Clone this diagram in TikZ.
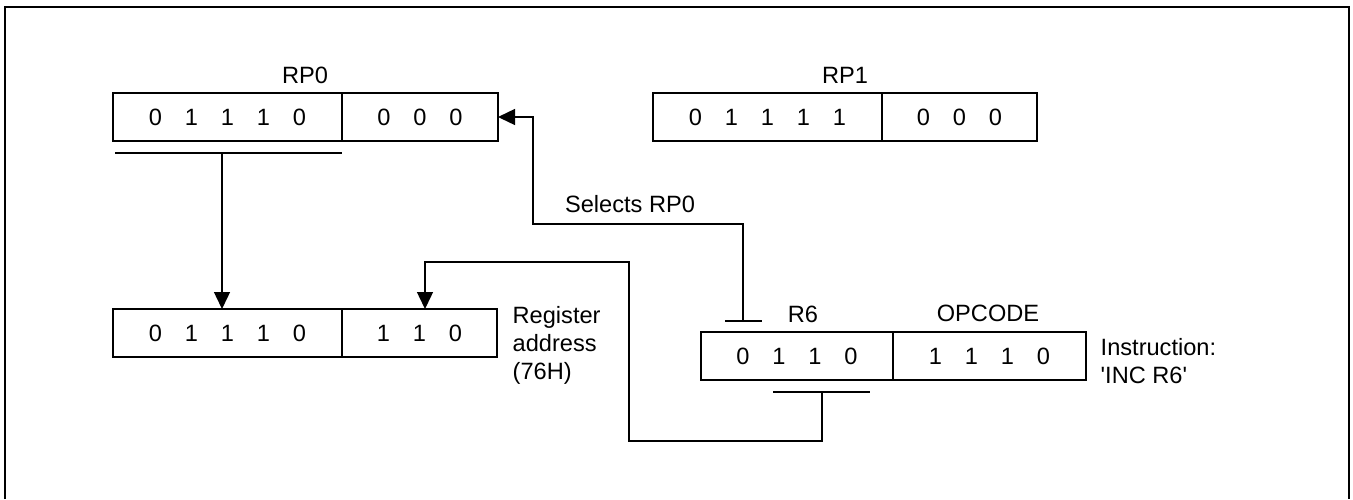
\documentclass[tikz,border=0pt]{standalone}
\usepackage{fontspec}
\setmainfont{Liberation Sans}
\usetikzlibrary{arrows.meta,calc}
% one register field: bits set in equal-width cells
\newcommand\bitrow[1]{\foreach \bitval in {#1}{\makebox[18pt]{\bitval}}}

\begin{document}
\begin{tikzpicture}[x=0.5pt,y=-0.5pt,
  font=\fontsize{11.8}{14}\selectfont,
  line width=0.7pt,
  field/.style={draw, inner sep=0pt, outer sep=0pt, minimum height=24pt, anchor=north west},
  lbl/.style={inner sep=0pt},
  arr/.style={-{Triangle[length=8.5pt,width=8pt]}},
  frame/.style={line width=1.2pt}]
\useasboundingbox (0,0) rectangle (1353,499);
\draw[frame] (5,499) -- (5,7) -- (1349,7) -- (1349,499);

% register pointer RP0
\node[field, minimum width=114.5pt] (rp0a) at (113,93) {\bitrow{0,1,1,1,0}};
\node[field, minimum width=78pt] (rp0b) at (rp0a.north east) {\bitrow{0,0,0}};
\node[lbl] (rp0lbl) at (305,75) {RP0};

% register pointer RP1
\node[field, minimum width=114.5pt] (rp1a) at (653,93) {\bitrow{0,1,1,1,1}};
\node[field, minimum width=77.5pt] (rp1b) at (rp1a.north east) {\bitrow{0,0,0}};
\node[lbl] (rp1lbl) at (845,75) {RP1};

% resulting register address
\node[field, minimum width=114.5pt] (adra) at (113,309) {\bitrow{0,1,1,1,0}};
\node[field, minimum width=77.5pt] (adrb) at (adra.north east) {\bitrow{1,1,0}};
\node[lbl, anchor=west, align=left] (adrlbl) at (512,345) {Register\\address\\(76H)};

% instruction word
\node[field, minimum width=96pt] (r6f) at (701,332) {\bitrow{0,1,1,0}};
\node[field, minimum width=96.5pt] (opf) at (r6f.north east) {\bitrow{1,1,1,0}};
\node[lbl] (r6lbl) at (803,314) {R6};
\node[lbl] (oplbl) at (988,313) {OPCODE};
\node[lbl, anchor=west, align=left] (inslbl) at (1100,361)
  {Instruction:\\\textquotesingle INC R6\textquotesingle};

% upper five bits of RP0 go to the address
\coordinate (b0l) at (115,153);
\coordinate (b0r) at (342,153);
\coordinate (b0m) at (222,153);
\draw (b0l) -- (b0r);
\draw[arr] (b0m) -- (b0m |- adra.north);

% R6 field selects RP0
\coordinate (tl) at (725,321);
\coordinate (tr) at (762,321);
\coordinate (tm) at (743,321);
\draw (tl) -- (tr);
\draw[arr] (tm) -- (743,224) -- (533,224) |- (rp0b.east);
\node[lbl] (sellbl) at (630,204) {Selects RP0};

% lower three bits of R6 go to the address
\coordinate (bl) at (773,392);
\coordinate (br) at (870,392);
\coordinate (bm) at (822,392);
\coordinate (a2) at (425,262);
\draw (bl) -- (br);
\draw[arr] (bm) -- (822,441) -- (629,441) -- (629,262) -- (a2) -- (a2 |- adrb.north);
\end{tikzpicture}
\end{document}
